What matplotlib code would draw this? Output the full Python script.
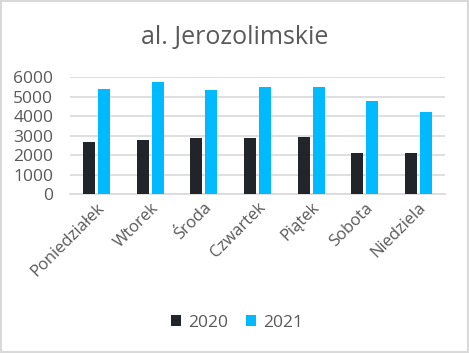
import matplotlib
matplotlib.use("Agg")
import matplotlib.pyplot as plt
import numpy as np
from matplotlib.patches import Rectangle

plt.rcParams['font.family'] = ['Open Sans', 'DejaVu Sans']

title = "al. Jerozolimskie"
categories = ["Poniedziałek", "Wtorek", "Środa", "Czwartek", "Piątek", "Sobota", "Niedziela"]
series_names = ["2020", "2021"]
values_2020 = [2700, 2800, 2900, 2900, 2950, 2100, 2100]
values_2021 = [5400, 5760, 5350, 5500, 5500, 4800, 4200]
yticks = [0, 1000, 2000, 3000, 4000, 5000, 6000]

colors = ["#212428", "#00BAFF"]
grid_color = "#D9D9D9"
text_color = "#595959"

fig = plt.figure(figsize=(4.69, 3.53), dpi=100)
ax = fig.add_axes([0.149, 0.4496, 0.80, 0.3314])

x = np.arange(len(categories))
w = 0.225
gap = 0.055
ax.bar(x - (w + gap) / 2, values_2020, width=w, color=colors[0], label=series_names[0], zorder=3)
ax.bar(x + (w + gap) / 2, values_2021, width=w, color=colors[1], label=series_names[1], zorder=3)

ax.set_xlim(-0.5, len(categories) - 0.5)
ax.set_ylim(0, 6000)
ax.set_yticks(yticks)
ax.set_yticklabels([str(v) for v in yticks])
ax.yaxis.grid(True, color=grid_color, linewidth=1.2, zorder=0)
ax.set_axisbelow(True)
for s in ["top", "right", "left"]:
    ax.spines[s].set_visible(False)
ax.spines["bottom"].set_color(grid_color)
ax.spines["bottom"].set_linewidth(1.2)
ax.tick_params(axis="x", length=0, labelsize=12, colors=text_color, pad=4)
ax.tick_params(axis="y", length=0, labelsize=12.5, colors=text_color, pad=12)
ax.set_xticks(x)
ax.set_xticklabels(categories, rotation=45, ha="right", rotation_mode="anchor")

fig.text(0.5, 1 - 44 / 353, title, ha="center", va="baseline", fontsize=18, color=text_color)

handles, labels = ax.get_legend_handles_labels()
fig.legend(handles, labels, loc="center", bbox_to_anchor=(0.505, 0.085), ncol=2, frameon=False,
           fontsize=12.5, labelcolor=text_color, handlelength=0.6, handleheight=0.6,
           columnspacing=1.0, handletextpad=0.4)

fig.patches.append(Rectangle((0.002, 0.003), 0.995, 0.994, transform=fig.transFigure,
                             fill=False, edgecolor=grid_color, linewidth=1.5))

fig.savefig("out.png", dpi=100, facecolor="white")
